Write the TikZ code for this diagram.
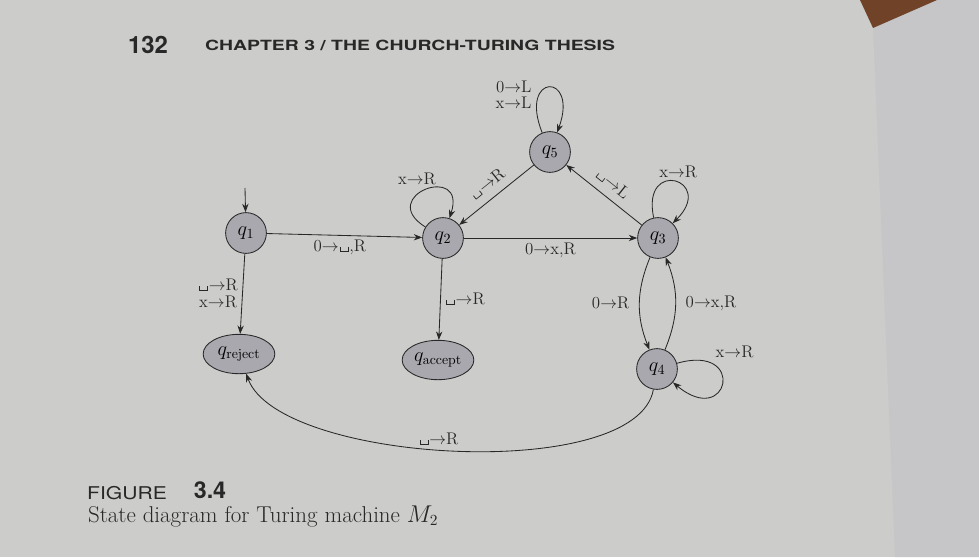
\documentclass[tikz,border=0pt]{standalone}
\usepackage{amsmath, amssymb}
\usepackage{fontspec}
\setsansfont{TeX Gyre Heros}
\usetikzlibrary{arrows.meta, shapes.geometric}

\definecolor{pagegray}{RGB}{204,204,202}
\definecolor{pagedark}{RGB}{198,198,200}
\definecolor{tablebrown}{RGB}{112,66,40}
\definecolor{statefill}{RGB}{168,168,174}
\definecolor{ink}{RGB}{40,40,40}

\newcommand{\blnk}{\kern0.06em\rule{0.5pt}{0.28em}\rule{0.42em}{0.5pt}\rule{0.5pt}{0.28em}\kern0.06em}
\newcommand{\tr}[2]{#1$\rightarrow$#2}

\tikzset{
  state/.style={circle, draw=ink, fill=statefill, minimum size=29pt, inner sep=0pt,
    font=\fontsize{14}{16}\selectfont},
  halt/.style={ellipse, draw=ink, fill=statefill, minimum width=51pt, minimum height=28pt,
    inner sep=0pt, font=\fontsize{14}{16}\selectfont},
  lbl/.style={font=\fontsize{12}{14}\selectfont, text=ink, inner sep=3pt},
}

\begin{document}
\begin{tikzpicture}[x=0.25mm, y=0.25mm, >={Stealth[length=6pt,width=4.5pt]}, semithick, draw=ink]
% page
\fill[pagegray] (0,0) rectangle (979,557);
\fill[pagedark] (873,530) -- (895,0) -- (979,0) -- (979,557) -- (937,557) -- cycle;
\fill[tablebrown] (860,557) -- (937,557) -- (873,529) -- cycle;
\useasboundingbox (0,0) rectangle (979,557);

% running head
\node[text=ink, font=\sffamily\bfseries\fontsize{17}{19}\selectfont] (page) at (148,512) {132};
\node[text=ink, font=\sffamily\bfseries\fontsize{10}{12}\selectfont] (head) at (410,512)
  {\scalebox{1.38}[1]{CHAPTER 3 / THE CHURCH-TURING THESIS}};

% states
\node[state] (q1) at (246,324) {$q_1$};
\node[state] (q2) at (443,319) {$q_2$};
\node[state] (q3) at (658,319) {$q_3$};
\node[state] (q4) at (657,188) {$q_4$};
\node[state] (q5) at (550,405) {$q_5$};
\node[halt] (qrej) at (239,203) {$q_{\mathrm{reject}}$};
\node[halt] (qacc) at (438,197) {$q_{\mathrm{accept}}$};
\coordinate (start) at (245,369);

% transitions
\draw[->] (start) -- (q1);
\draw[->] (q1) -- node[lbl, pos=0.47, below]{\tr{0}{\blnk,R}} (q2);
\draw[->] (q1) -- node[lbl, midway, left, align=center]{\tr{\blnk}{R}\\[-2pt]\tr{x}{R}} (qrej);
\draw[->] (q2) -- node[lbl, midway, right]{\tr{\blnk}{R}} (qacc);
\draw[->] (q2) -- node[lbl, midway, below]{\tr{0}{x,R}} (q3);
\draw[->] (q2) to[out=148, in=72, min distance=42pt] node[lbl, above, xshift=-6pt]{\tr{x}{R}} (q2);
\draw[->] (q5) -- node[lbl, midway, above=3pt, sloped]{\tr{\blnk}{R}} (q2);
\draw[->] (q3) -- node[lbl, midway, above=3pt, sloped]{\tr{\blnk}{L}} (q5);
\draw[->] (q5) to[out=112, in=70, min distance=46pt]
  node[lbl, left, align=right, pos=0.3, xshift=-2pt]{\tr{0}{L}\\[-2pt]\tr{x}{L}} (q5);
\draw[->] (q3) to[out=102, in=45, min distance=44pt] node[lbl, above, pos=0.55]{\tr{x}{R}} (q3);
\draw[->] (q3) to[bend right=22] node[lbl, left=4pt]{\tr{0}{R}} (q4);
\draw[->] (q4) to[bend right=22] node[lbl, right=4pt]{\tr{0}{x,R}} (q3);
\draw[->] (q4) to[out=16, in=-40, min distance=52pt] node[lbl, pos=0.22, above right]{\tr{x}{R}} (q4);
\draw[->] (q4) to[out=-100, in=-70, looseness=0.6] node[lbl, pos=0.53, above]{\tr{\blnk}{R}} (qrej);

% caption
\node[text=ink, font=\sffamily\fontsize{12.5}{14}\selectfont] (figword) at (127,64)
  {\scalebox{1.2}[1]{FIGURE}};
\node[text=ink, font=\sffamily\bfseries\fontsize{16.5}{18}\selectfont] (fignum) at (210,67) {3.4};
\node[text=ink, anchor=base west, font=\fontsize{16.3}{18}\selectfont] (caption) at (83,35)
  {State diagram for Turing machine $M_2$};
\end{tikzpicture}
\end{document}
